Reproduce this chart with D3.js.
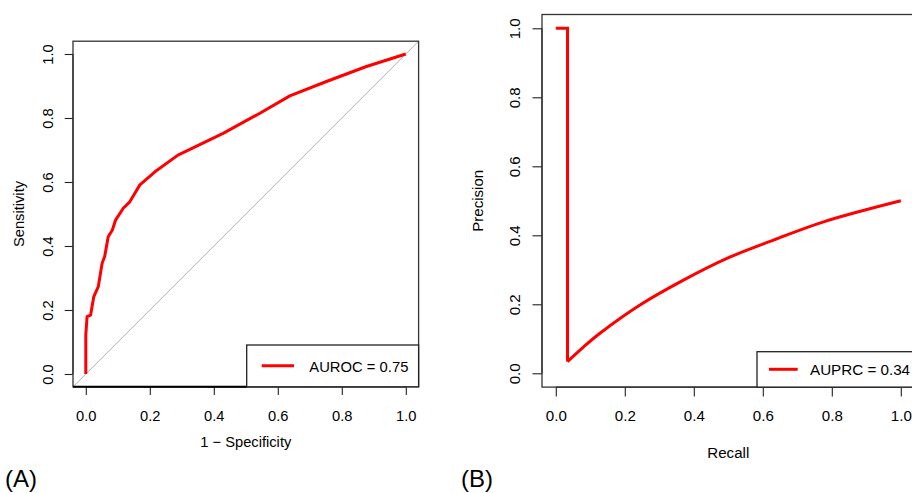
<!DOCTYPE html>
<html><head><meta charset="utf-8">
<script src="https://cdn.jsdelivr.net/npm/d3@7"></script>
<style>body{margin:0;background:#fff}svg{display:block}text{font-family:"Liberation Sans",Arial,sans-serif}</style>
</head><body>
<svg id="c" width="912" height="493"></svg>
<script>
// ROC data (panel A)
const rocFpr = [0, 0, 0.004, 0.015, 0.025, 0.039, 0.051, 0.059, 0.070, 0.083, 0.093, 0.117, 0.1375, 0.169, 0.216, 0.288, 0.429, 0.544, 0.6375, 0.752, 0.877, 1.0];
const rocTpr = [0, 0.122, 0.179, 0.184, 0.242, 0.273, 0.346, 0.367, 0.429, 0.45, 0.481, 0.518, 0.538, 0.591, 0.632, 0.684, 0.752, 0.815, 0.869, 0.914, 0.961, 1.0];
// PR data (panel B)
const prRecall    = [0, 0.034, 0.034, 0.08, 0.128, 0.244, 0.370, 0.496, 0.631, 0.776, 1.0];
const prPrecision = [1, 1, 0.034, 0.076, 0.116, 0.198, 0.270, 0.333, 0.386, 0.439, 0.500];
const tickValues = [0, 0.2, 0.4, 0.6, 0.8, 1.0];
const tickLabels = ["0.0", "0.2", "0.4", "0.6", "0.8", "1.0"];
const aurocLabel = "AUROC = 0.75";
const auprcLabel = "AUPRC = 0.34";

const svg = d3.select("#c");

function panel(cfg) {
  const x = d3.scaleLinear().domain([-0.04, 1.04]).range([cfg.left, cfg.right]);
  const y = d3.scaleLinear().domain([-0.04, 1.04]).range([cfg.bottom, cfg.top]);
  const g = svg.append("g");
  const clipId = "clip" + cfg.id;
  svg.append("clipPath").attr("id", clipId).append("rect")
    .attr("x", cfg.left).attr("y", cfg.top).attr("width", cfg.right - cfg.left).attr("height", cfg.bottom - cfg.top);
  const fs = cfg.fs;
  const xa = g.append("g").attr("transform", `translate(0,${cfg.bottom})`)
    .call(d3.axisBottom(x).tickValues(tickValues).tickFormat((d, i) => tickLabels[i]).tickSize(cfg.tick).tickSizeOuter(0));
  xa.select(".domain").attr("stroke", "#222").attr("stroke-width", 1.2).attr("d", `M${x(0)},0H${x(1)}`);
  xa.selectAll(".tick line").attr("stroke", "#222").attr("stroke-width", 1.1);
  xa.selectAll(".tick text").attr("font-size", fs).attr("fill", "#000").attr("y", cfg.xLabY).attr("dy", 0)
    .attr("font-family", "Liberation Sans, Arial, sans-serif");
  const ya = g.append("g").attr("transform", `translate(${cfg.left},0)`)
    .call(d3.axisLeft(y).tickValues(tickValues).tickFormat((d, i) => tickLabels[i]).tickSize(cfg.tick).tickSizeOuter(0));
  ya.select(".domain").attr("stroke", "#222").attr("stroke-width", 1.2).attr("d", `M0,${y(0)}V${y(1)}`);
  ya.selectAll(".tick line").attr("stroke", "#222").attr("stroke-width", 1.1);
  ya.selectAll(".tick text").attr("font-size", fs).attr("fill", "#000")
    .attr("x", 0).attr("dy", 0).attr("text-anchor", "middle")
    .attr("transform", `translate(${cfg.yLabX - cfg.left},0) rotate(-90)`)
    .attr("font-family", "Liberation Sans, Arial, sans-serif");
  g.append("text").attr("x", (x(0) + x(1)) / 2).attr("y", cfg.xTitleY).attr("text-anchor", "middle")
    .attr("font-size", fs).text(cfg.xTitle);
  g.append("text").attr("transform", `translate(${cfg.yTitleX},${(y(0) + y(1)) / 2}) rotate(-90)`)
    .attr("text-anchor", "middle").attr("font-size", fs).text(cfg.yTitle);
  return { x, y, g, clipId };
}

// Panel A
const A = panel({ id: "A", left: 73, right: 418.6, top: 41.2, bottom: 386.8, tick: 8.3, fs: 14.7,
  xLabY: 34.5, yLabX: 53.3, xTitleY: 446.5, yTitleX: 24, xTitle: "1 \u2212 Specificity", yTitle: "Sensitivity" });
A.g.append("line").attr("clip-path", `url(#${A.clipId})`)
  .attr("x1", A.x(-0.04)).attr("y1", A.y(-0.04)).attr("x2", A.x(1.04)).attr("y2", A.y(1.04))
  .attr("stroke", "#b0b0b0").attr("stroke-width", 1);
A.g.append("path").datum(rocFpr.map((d, i) => [d, rocTpr[i]]))
  .attr("d", d3.line().x(d => A.x(d[0])).y(d => A.y(d[1])))
  .attr("fill", "none").attr("stroke", "#ff0000").attr("stroke-width", 3).attr("stroke-linejoin", "round");
A.g.append("rect").attr("x", 73).attr("y", 41.2).attr("width", 345.6).attr("height", 345.6)
  .attr("fill", "none").attr("stroke", "#333").attr("stroke-width", 1.3);
A.g.append("line").attr("x1", 73).attr("x2", 246.7).attr("y1", 386.8).attr("y2", 386.8).attr("stroke", "#000").attr("stroke-width", 2);
const lgA = A.g.append("g");
lgA.append("rect").attr("x", 246.7).attr("y", 345).attr("width", 418.6 - 246.7).attr("height", 386.8 - 345)
  .attr("fill", "#fff").attr("stroke", "#222").attr("stroke-width", 1.3);
lgA.append("line").attr("x1", 261.7).attr("x2", 294).attr("y1", 365.7).attr("y2", 365.7).attr("stroke", "#ff0000").attr("stroke-width", 3);
lgA.append("text").attr("x", 309.3).attr("y", 371.5).attr("font-size", 14.8).text(aurocLabel);

// Panel B
const B = panel({ id: "B", left: 542, right: 914.6, top: 14.5, bottom: 387.1, tick: 9.5, fs: 15.1,
  xLabY: 33.5, yLabX: 520, xTitleY: 458, yTitleX: 483.3, xTitle: "Recall", yTitle: "Precision" });
const prPts = prRecall.map((d, i) => [d, prPrecision[i]]);
B.g.append("path").datum(prPts.slice(0, 3))
  .attr("d", d3.line().x(d => B.x(d[0])).y(d => B.y(d[1])))
  .attr("fill", "none").attr("stroke", "#ff0000").attr("stroke-width", 3).attr("stroke-linejoin", "miter");
B.g.append("path").datum(prPts.slice(2))
  .attr("d", d3.line().curve(d3.curveCatmullRom.alpha(0.5)).x(d => B.x(d[0])).y(d => B.y(d[1])))
  .attr("fill", "none").attr("stroke", "#ff0000").attr("stroke-width", 3).attr("stroke-linejoin", "round");
B.g.append("rect").attr("x", 542).attr("y", 14.5).attr("width", 372.6).attr("height", 372.6)
  .attr("fill", "none").attr("stroke", "#333").attr("stroke-width", 1.3);
const lgB = B.g.append("g");
lgB.append("rect").attr("x", 757).attr("y", 351.7).attr("width", 914.6 - 757).attr("height", 387.1 - 351.7)
  .attr("fill", "#fff").attr("stroke", "#222").attr("stroke-width", 1.3);
lgB.append("line").attr("x1", 769).attr("x2", 797.7).attr("y1", 369.3).attr("y2", 369.3).attr("stroke", "#ff0000").attr("stroke-width", 3);
lgB.append("text").attr("x", 810).attr("y", 375).attr("font-size", 15.2).text(auprcLabel);

svg.append("text").attr("x", 5).attr("y", 487).attr("font-size", 24).attr("font-family", "Lato, 'Open Sans', sans-serif").text("(A)");
svg.append("text").attr("x", 461).attr("y", 487).attr("font-size", 24).attr("font-family", "Lato, 'Open Sans', sans-serif").text("(B)");
</script>
</body></html>
